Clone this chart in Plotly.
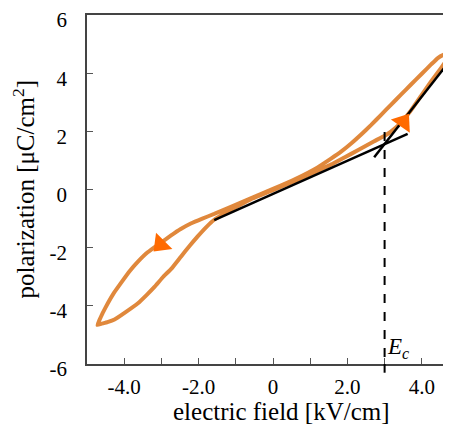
import plotly.graph_objects as go

# Hysteresis loop: descending branch (from +tip to -tip) then ascending branch (back to +tip)
E_desc = [4.76, 4.70, 4.58, 4.43, 4.25, 4.00, 3.71, 3.44, 3.17, 2.90, 2.64, 2.37, 2.10, 1.83, 1.56, 1.20, 0.60, 0.00, -0.60, -1.10, -1.58, -1.90, -2.21, -2.48, -2.74, -3.05, -3.37, -3.63, -3.85, -4.08, -4.28, -4.44, -4.58, -4.67, -4.72]
P_desc = [4.66, 4.68, 4.63, 4.52, 4.30, 3.98, 3.61, 3.26, 2.91, 2.56, 2.22, 1.89, 1.58, 1.30, 1.06, 0.76, 0.36, 0.02, -0.30, -0.58, -0.84, -1.00, -1.17, -1.36, -1.58, -1.86, -2.16, -2.48, -2.80, -3.20, -3.56, -3.91, -4.25, -4.50, -4.66]
E_asc = [-4.72, -4.62, -4.45, -4.26, -4.00, -3.63, -3.40, -3.18, -2.95, -2.73, -2.47, -2.25, -2.03, -1.80, -1.58, -1.10, -0.60, 0.00, 0.60, 1.20, 1.60, 1.92, 2.28, 2.72, 3.00, 3.17, 3.44, 3.71, 3.98, 4.25, 4.52, 4.68, 4.76]
P_asc = [-4.66, -4.62, -4.56, -4.47, -4.25, -3.91, -3.63, -3.34, -3.00, -2.72, -2.30, -1.95, -1.62, -1.30, -1.04, -0.68, -0.34, -0.02, 0.30, 0.64, 0.88, 1.10, 1.35, 1.66, 1.85, 1.99, 2.30, 2.72, 3.22, 3.72, 4.18, 4.48, 4.66]

# Tangent lines
line1_E = [-1.58, 3.62]
line1_P = [-1.05, 1.91]
line2_E = [2.72, 4.75]
line2_P = [1.11, 4.42]

# Coercive field
Ec = 3.0
Ec_top = 1.98

# Direction arrows
arrow_E = [3.50, -3.02]
arrow_P = [2.32, -1.89]
arrow_angle = [35, 225]

x_tickvals = [-4, -2, 0, 2, 4]
x_ticktext = ["-4.0", "-2.0", "0", "2.0", "4.0"]
y_tickvals = [-6, -4, -2, 0, 2, 4, 6]
y_ticktext = ["-6", "-4", "-2", "0", "2", "4", "6"]

FONT = "Liberation Serif"
loop_color = "#e0883c"
arrow_color = "#ff6a00"

fig = go.Figure()
fig.add_trace(go.Scatter(x=E_desc + E_asc[1:], y=P_desc + P_asc[1:], mode="lines",
                         line=dict(color=loop_color, width=4, shape="spline", smoothing=0.3),
                         hoverinfo="skip", showlegend=False))
fig.add_trace(go.Scatter(x=line1_E, y=line1_P, mode="lines", line=dict(color="black", width=2.5),
                         showlegend=False))
fig.add_trace(go.Scatter(x=line2_E, y=line2_P, mode="lines", line=dict(color="black", width=2.5),
                         showlegend=False))
fig.add_trace(go.Scatter(x=arrow_E, y=arrow_P, mode="markers",
                         marker=dict(symbol="triangle-up", size=20, color=arrow_color,
                                     angle=arrow_angle, line=dict(width=0)),
                         showlegend=False))

fig.add_shape(type="line", xref="x", yref="y", x0=Ec, x1=Ec, y0=Ec_top, y1=-6,
              line=dict(color="black", width=2, dash="dash"))
fig.add_shape(type="line", xref="x", yref="paper", x0=Ec, x1=Ec, y0=0, y1=-0.025,
              line=dict(color="black", width=2, dash="dash"))

fig.add_annotation(x=Ec + 0.37, y=-5.45, xref="x", yref="y", showarrow=False,
                   text="<i>E<sub>c</sub></i>", font=dict(family=FONT, size=23, color="black"))
fig.add_annotation(x=-0.172, y=0.5, xref="paper", yref="paper", showarrow=False, textangle=-90,
                   xanchor="center", yanchor="middle",
                   text="polarization [μC/cm<sup>2</sup>]", font=dict(family=FONT, size=25, color="black"))
fig.add_annotation(x=0.523, y=-0.1375, xref="paper", yref="paper", showarrow=False,
                   xanchor="center", yanchor="middle",
                   text="electric field [kV/cm]", font=dict(family=FONT, size=25, color="black"))

axis_common = dict(showgrid=False, zeroline=False, showline=True, linecolor="#444", linewidth=1.5,
                   ticks="inside", ticklen=6, tickcolor="#555", tickwidth=1, automargin=False,
                   ticklabeloverflow="allow",
                   tickfont=dict(family=FONT, size=21, color="black"))
fig.update_xaxes(range=[-5, 5], tickvals=x_tickvals, ticktext=x_ticktext, mirror=True,
                 minor=dict(dtick=1, tick0=0, ticks="inside", ticklen=6, tickcolor="#555"),
                 ticklabelstandoff=3, **axis_common)
fig.update_yaxes(range=[-6, 6], tickvals=y_tickvals, ticktext=y_ticktext,
                 ticklabelstandoff=14, ticklabelshift=5, **axis_common)

# the page body has an 8px default margin, so the figure is offset by (8, 8) in the window
fig.update_layout(width=451, height=425, margin=dict(l=79, r=0, t=7, b=69, autoexpand=False),
                  plot_bgcolor="white", paper_bgcolor="white")

fig.write_html("out.html")
